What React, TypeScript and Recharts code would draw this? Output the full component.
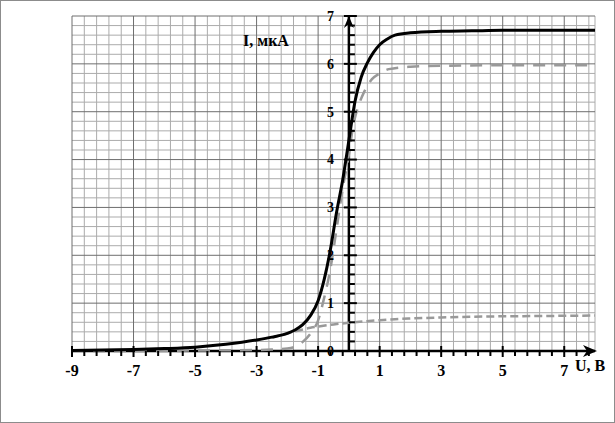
import React from "react";
import {
    LineChart,
    Line,
    XAxis,
    YAxis,
    ReferenceLine,
    ReferenceDot,
} from "recharts";

// U, V  /  I, uA
const solidU = [-9, -8, -7, -6, -5, -4, -3, -2.5, -2, -1.75, -1.5, -1.25, -1, -0.8, -0.6, -0.4, -0.2, 0, 0.2, 0.4, 0.6, 0.8, 1, 1.25, 1.5, 2, 3, 4, 5, 6, 7, 8];
const solidI = [0.01, 0.02, 0.03, 0.05, 0.08, 0.14, 0.23, 0.29, 0.37, 0.44, 0.55, 0.74, 1.05, 1.5, 2.12, 2.9, 3.58, 4.4, 5.22, 5.72, 6.02, 6.24, 6.4, 6.52, 6.6, 6.65, 6.68, 6.69, 6.7, 6.7, 6.7, 6.7];

const upperU = [-9, -7, -6, -5, -4, -3, -2.5, -2, -1.75, -1.5, -1.25, -1, -0.8, -0.6, -0.4, -0.2, 0, 0.1, 0.2, 0.3, 0.5, 0.75, 1, 1.3, 2, 3, 5, 8];
const upperI = [0, 0, 0.005, 0.01, 0.015, 0.02, 0.03, 0.05, 0.09, 0.19, 0.36, 0.64, 1.12, 1.72, 2.55, 3.4, 4.1, 4.55, 4.88, 5.1, 5.42, 5.68, 5.8, 5.89, 5.94, 5.96, 5.97, 5.97];

const lowerU = [-2.5, -2, -1.75, -1.5, -1.25, -1, -0.5, 0, 0.5, 1, 1.5, 2, 3, 4, 5, 6, 7, 8];
const lowerI = [0.285, 0.365, 0.41, 0.45, 0.485, 0.51, 0.555, 0.59, 0.62, 0.645, 0.665, 0.68, 0.7, 0.715, 0.725, 0.73, 0.735, 0.74];

const xMajorTicks = [-9, -7, -5, -3, -1, 1, 3, 5, 7];
const yMajorTicks = [0, 1, 2, 3, 4, 5, 6, 7];

const toRows = (us: number[], is: number[]) => us.map((u, k) => ({ u, i: is[k] }));
const solidData = toRows(solidU, solidI);
const upperData = toRows(upperU, upperI);
const lowerData = toRows(lowerU, lowerI);

// graph-paper steps
const steps = (from: number, to: number, step: number) => {
    const out: number[] = [];
    for (let k = 0; from + k * step <= to + 1e-9; k++) out.push(Math.round((from + k * step) * 100) / 100);
    return out;
};
const xMinor = steps(-9, 7.8, 0.4);
const yMinor = steps(0, 7, 0.2);

const FONT = "'Liberation Serif', 'Times New Roman', serif";
const MINOR = "#ababab";
const MAJOR = "#6e6e6e";

export default function App() {
    return (
        <div style={{ position: "absolute", left: 0, top: 0, width: 615, height: 423, background: "#fff" }}>
            <LineChart width={615} height={423} margin={{ top: 16, right: 20, bottom: 72, left: 72 }}>
                <XAxis dataKey="u" type="number" domain={[-9, 8]} hide />
                <YAxis type="number" domain={[0, 7]} hide />

                {[...xMinor, 8].filter((v) => !xMajorTicks.includes(v)).map((v) => (
                    <ReferenceLine key={"gx" + v} x={v} stroke={MINOR} strokeWidth={1} />
                ))}
                {yMinor.filter((v) => !yMajorTicks.includes(v)).map((v) => (
                    <ReferenceLine key={"gy" + v} y={v} stroke={MINOR} strokeWidth={1} />
                ))}
                {xMajorTicks.map((v) => (
                    <ReferenceLine key={"Gx" + v} x={v} stroke={MAJOR} strokeWidth={1} />
                ))}
                {yMajorTicks.map((v) => (
                    <ReferenceLine key={"Gy" + v} y={v} stroke={MAJOR} strokeWidth={1} />
                ))}

                <ReferenceLine y={0} stroke="#000" strokeWidth={2.5} />
                <ReferenceLine x={0} stroke="#000" strokeWidth={2.5} />

                <Line data={upperData} dataKey="i" type="monotone" stroke="#999" strokeWidth={2.5} strokeDasharray="12 9" dot={false} activeDot={false} isAnimationActive={false} />
                <Line data={lowerData} dataKey="i" type="monotone" stroke="#999" strokeWidth={2.5} strokeDasharray="8 4" dot={false} activeDot={false} isAnimationActive={false} />
                <Line data={solidData} dataKey="i" type="monotone" stroke="#000" strokeWidth={3} dot={false} activeDot={false} isAnimationActive={false} />

                {xMinor.map((v) => {
                    const major = xMajorTicks.includes(v);
                    return (
                        <ReferenceDot
                            key={"xt" + v}
                            x={v}
                            y={0}
                            shape={(p: any) => (
                                <g>
                                    <line x1={p.cx} x2={p.cx} y1={major ? p.cy - 5 : p.cy} y2={major ? p.cy + 6 : p.cy + 5} stroke="#000" strokeWidth={2} />
                                    {major && (
                                        <text x={p.cx} y={p.cy + 25} textAnchor="middle" fontFamily={FONT} fontSize={16} fontWeight="bold" fill="#000">
                                            {v}
                                        </text>
                                    )}
                                </g>
                            )}
                        />
                    );
                })}

                {yMinor.map((v) => {
                    const major = yMajorTicks.includes(v);
                    return (
                        <ReferenceDot
                            key={"yt" + v}
                            x={0}
                            y={v}
                            shape={(p: any) => (
                                <g>
                                    <line x1={major ? p.cx - 5 : p.cx} x2={major ? p.cx + 8 : p.cx + 6} y1={p.cy} y2={p.cy} stroke="#000" strokeWidth={2} />
                                    {major && (
                                        <text x={p.cx - 15} y={p.cy} dy="0.35em" textAnchor="end" fontFamily={FONT} fontSize={14} fontWeight="bold" fill="#000">
                                            {v}
                                        </text>
                                    )}
                                </g>
                            )}
                        />
                    );
                })}

                <ReferenceDot
                    x={8}
                    y={0}
                    shape={(p: any) => (
                        <path d={`M${p.cx + 2},${p.cy} L${p.cx - 12},${p.cy - 6} L${p.cx - 8},${p.cy} L${p.cx - 12},${p.cy + 6} Z`} fill="#000" />
                    )}
                />
                <ReferenceDot
                    x={0}
                    y={7}
                    shape={(p: any) => (
                        <path d={`M${p.cx},${p.cy} L${p.cx - 5},${p.cy + 12} L${p.cx},${p.cy + 8} L${p.cx + 5},${p.cy + 12} Z`} fill="#000" />
                    )}
                />
            </LineChart>

            <svg width={615} height={423} style={{ position: "absolute", left: 0, top: 0, pointerEvents: "none" }}>
                <text x={243} y={46} fontFamily={FONT} fontSize={16} fontWeight="bold" fill="#000">I, мкА</text>
                <text x={575} y={371} fontFamily={FONT} fontSize={16} fontWeight="bold" fill="#000">U, В</text>
            </svg>

            <div style={{ position: "absolute", inset: 0, border: "1px solid #8c8c8c", boxSizing: "border-box", pointerEvents: "none" }} />
        </div>
    );
}
